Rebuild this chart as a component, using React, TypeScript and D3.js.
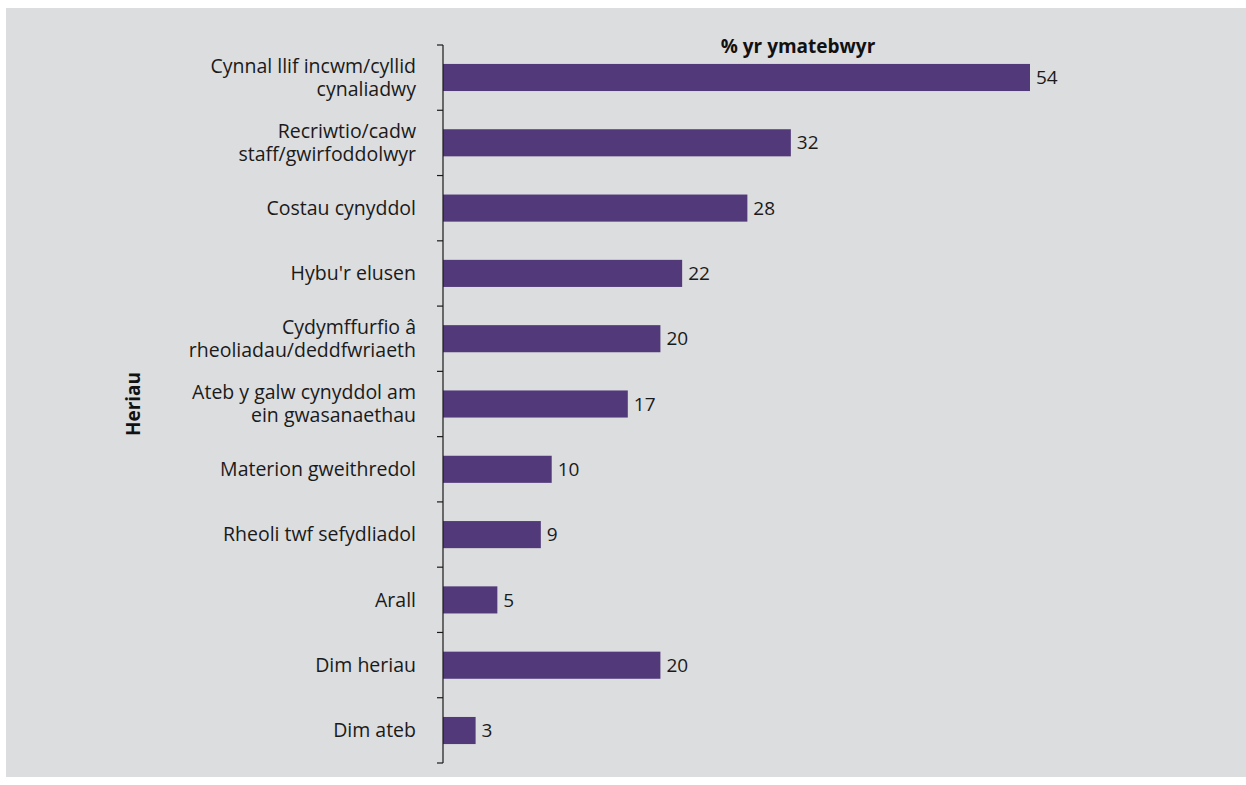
import React from "react";
import * as d3 from "d3";

const categories: string[][] = [
  ["Cynnal llif incwm/cyllid", "cynaliadwy"],
  ["Recriwtio/cadw", "staff/gwirfoddolwyr"],
  ["Costau cynyddol"],
  ["Hybu'r elusen"],
  ["Cydymffurfio â", "rheoliadau/deddfwriaeth"],
  ["Ateb y galw cynyddol am", "ein gwasanaethau"],
  ["Materion gweithredol"],
  ["Rheoli twf sefydliadol"],
  ["Arall"],
  ["Dim heriau"],
  ["Dim ateb"],
];
const values: number[] = [54, 32, 28, 22, 20, 17, 10, 9, 5, 20, 3];
const xTitle = "% yr ymatebwyr";
const yTitle = "Heriau";

const W = 1246;
const H = 785;
const FONT = "'Open Sans', sans-serif";

export default function App() {
  const x0 = 443;
  const y0 = 45;
  const y1 = 763;
  const keys = categories.map((_, i) => String(i));
  const y = d3.scaleBand<string>().domain(keys).range([y0, y1]).paddingInner(0.585).paddingOuter(0.29);
  const x = d3.scaleLinear().domain([0, 54]).range([x0, 1030]);
  const yAll = d3.scaleBand<string>().domain(keys).range([y0, y1]);
  const tickYs = [...keys.map((k) => yAll(k)!), y1];

  return (
    <svg width={W} height={H} style={{ position: "absolute", left: 0, top: 0 }} fontFamily={FONT}>
      <rect x={6} y={8} width={W - 6} height={777 - 8} fill="#dcdddf" />
      {values.map((v, i) => (
        <g key={i}>
          <rect x={x(0)} y={y(String(i))!} width={x(v) - x(0)} height={y.bandwidth()} fill="#523a7a" />
          <text
            x={x(v) + 6}
            y={y(String(i))! + y.bandwidth() / 2}
            dy="0.35em"
            fontSize={19}
            fill="#1a1a1a"
          >
            {v}
          </text>
        </g>
      ))}
      {categories.map((lines, i) => {
        const cy = yAll(String(i))! + yAll.bandwidth() / 2;
        const lh = 23;
        return (
          <text key={i} textAnchor="end" fontSize={19.5} fill="#1a1a1a">
            {lines.map((l, j) => (
              <tspan key={j} x={416} y={cy + (j - (lines.length - 1) / 2) * lh} dy="0.35em">
                {l}
              </tspan>
            ))}
          </text>
        );
      })}
      <line x1={x0} x2={x0} y1={y0} y2={y1} stroke="#1a1a1a" strokeWidth={1.2} />
      {tickYs.map((t, i) => (
        <line key={i} x1={x0 - 6} x2={x0} y1={t} y2={t} stroke="#1a1a1a" strokeWidth={1.2} />
      ))}
      <text x={798} y={46} dy="0.35em" textAnchor="middle" fontSize={19} fontWeight="bold" fill="#111">
        {xTitle}
      </text>
      <text
        transform={`translate(133,404) rotate(-90)`}
        textAnchor="middle"
        dy="0.35em"
        fontSize={19}
        fontWeight="bold"
        fill="#111"
      >
        {yTitle}
      </text>
    </svg>
  );
}
